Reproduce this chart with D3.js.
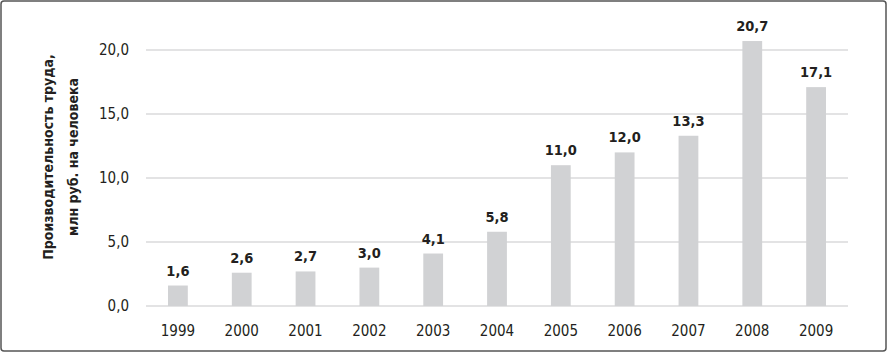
<!DOCTYPE html>
<html><head><meta charset="utf-8">
<script src="https://cdn.jsdelivr.net/npm/d3@7"></script>
<style>
body{margin:0;background:#fff;}
text{font-family:"Liberation Sans Narrow","DejaVu Sans Condensed",sans-serif;fill:#231f20;}
</style></head>
<body><svg id="c" width="888" height="353"></svg>
<script>
const years = ["1999","2000","2001","2002","2003","2004","2005","2006","2007","2008","2009"];
const values = [1.6, 2.6, 2.7, 3.0, 4.1, 5.8, 11.0, 12.0, 13.3, 20.7, 17.1];
const yTicks = [0, 5, 10, 15, 20];
const yTitle = ["Производительность труда,", "млн руб. на  человека"];

const svg = d3.select("#c");
svg.append("rect").attr("x",1).attr("y",1).attr("width",885).attr("height",350)
  .attr("rx",3).attr("fill","#fff").attr("stroke","#555").attr("stroke-width",1.5);

const x = d3.scaleBand().domain(years).range([146, 848]).paddingInner(0.69).paddingOuter(0.345);
const y = d3.scaleLinear().domain([0, 20]).range([306, 50]);
const fmt = v => d3.format(".1f")(v).replace(".", ",");

svg.append("g").selectAll("line").data(yTicks).join("line")
  .attr("x1",146).attr("x2",848).attr("y1",d=>y(d)).attr("y2",d=>y(d))
  .attr("stroke","#e3e3e4").attr("stroke-width",2);

svg.append("g").selectAll("text").data(yTicks).join("text")
  .attr("x",129).attr("y",d=>y(d)+5).attr("text-anchor","end")
  .attr("font-size",15).text(fmt);

svg.append("g").selectAll("rect").data(values).join("rect")
  .attr("x",(d,i)=>x(years[i])).attr("width",x.bandwidth())
  .attr("y",d=>y(d)).attr("height",d=>y(0)-y(d)).attr("fill","#d1d2d4");

svg.append("g").selectAll("text").data(values).join("text")
  .attr("x",(d,i)=>x(years[i])+x.bandwidth()/2).attr("y",d=>y(d)-10)
  .attr("text-anchor","middle").attr("font-size",14.5).attr("font-weight","bold").text(fmt);

svg.append("g").selectAll("text").data(years).join("text")
  .attr("x",d=>x(d)+x.bandwidth()/2).attr("y",336)
  .attr("text-anchor","middle").attr("font-size",15).text(d=>d);

const t = svg.append("text").attr("transform","translate(53,157) rotate(-90)")
  .attr("text-anchor","middle").attr("font-size",14).attr("font-weight","bold");
t.append("tspan").attr("x",0).attr("dy",0).text(yTitle[0]);
t.append("tspan").attr("x",0).attr("dy",25).text(yTitle[1]);
</script></body></html>
